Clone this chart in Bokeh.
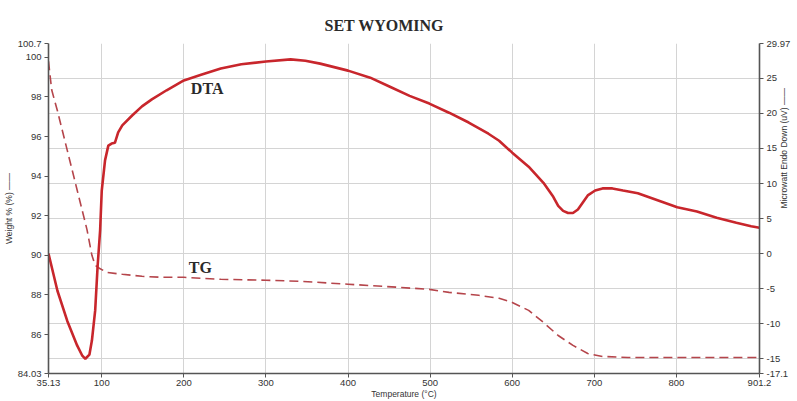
import numpy as np
from bokeh.plotting import figure
from bokeh.models import (Range1d, LinearAxis, FixedTicker, Grid, Label)
from bokeh.embed import file_html
from bokeh.resources import INLINE

# ---- data ----
dta_temp = [35.13, 46, 58, 70, 76, 80, 85, 88, 92, 95, 98, 100, 104, 108, 112, 116, 120, 125, 137,
            149, 161, 179, 200, 221, 245, 270, 300, 330, 348, 366, 400, 427, 451, 475, 499, 523,
            547, 571, 584, 600, 620, 638, 650, 656, 662, 668, 674, 680, 686, 692, 701, 710, 722,
            735, 753, 777, 801, 825, 849, 873, 891, 901.2]
dta_uv = [0.0, -5.3, -9.6, -13.1, -14.5, -15.0, -14.4, -12.4, -8.1, -1.7, 3.3, 9.0, 13.3, 15.4,
          15.7, 15.8, 17.3, 18.3, 19.7, 21.0, 22.0, 23.3, 24.7, 25.5, 26.4, 27.0, 27.4, 27.7, 27.5,
          27.1, 26.1, 25.1, 23.8, 22.5, 21.4, 20.1, 18.7, 17.1, 16.1, 14.4, 12.4, 10.1, 8.1, 6.8,
          6.1, 5.8, 5.8, 6.3, 7.3, 8.3, 9.0, 9.3, 9.3, 9.0, 8.6, 7.6, 6.6, 6.0, 5.1, 4.4, 3.9, 3.7]

tg_temp = [35.13, 39, 46, 58, 70, 82, 88, 92, 97, 106, 125, 149, 173, 200, 245, 300, 342, 400,
           463, 499, 523, 559, 584, 600, 620, 638, 656, 674, 692, 710, 741, 801, 849, 901.2]
tg_wt = [99.8, 98.36, 97.3, 95.3, 93.3, 91.3, 90.0, 89.5, 89.35, 89.14, 89.04, 88.94, 88.89,
         88.89, 88.79, 88.74, 88.69, 88.54, 88.38, 88.28, 88.13, 87.98, 87.83, 87.62, 87.22,
         86.61, 85.95, 85.45, 85.04, 84.89, 84.84, 84.84, 84.84, 84.84]

x_ticks = [35.13, 100, 200, 300, 400, 500, 600, 700, 800, 901.2]
left_ticks = [84.03, 86, 88, 90, 92, 94, 96, 98, 100, 100.7]
right_ticks = [-17.1, -15, -10, -5, 0, 5, 10, 15, 20, 25, 29.97]
grid_right = [-15, -10, -5, 0, 5, 10, 15, 20, 25]
grid_x = [100, 200, 300, 400, 500, 600, 700, 800]

title_text = "SET WYOMING"
x_label = "Temperature (°C)"
left_label = "Weight % (%) ——"
right_label = "Microwatt Endo Down (uV) ——"
curve_names = ["DTA", "TG"]
curve_label_pos = [(228.4, 98.41), (220, 89.40)]

# ---- figure ----
p = figure(width=797, height=401, output_backend="svg", toolbar_location=None,
           x_range=Range1d(35.13, 901.2), y_range=Range1d(84.03, 100.7),
           min_border_left=46, min_border_right=30, min_border_top=43, min_border_bottom=26)
p.background_fill_color = "white"
p.border_fill_color = "white"
p.outline_line_color = None
p.xgrid.visible = False
p.ygrid.visible = False

p.title.text = title_text
p.title.text_font = "Liberation Serif"
p.title.text_font_size = "16px"
p.title.text_font_style = "bold"
p.title.text_color = "#2a2a2a"
p.title.align = "left"
p.title.offset = 276
p.title.standoff = 20

p.extra_y_ranges = {"dta": Range1d(-17.1, 29.97)}

tick_font = "Liberation Sans"
def style_axis(ax, label):
    ax.axis_line_color = "#555555"
    ax.axis_line_width = 1.6
    ax.major_tick_line_color = "#555555"
    ax.major_tick_out = 4
    ax.major_tick_in = 0
    ax.minor_tick_line_color = None
    ax.major_label_text_font = tick_font
    ax.major_label_text_font_size = "9.5px"
    ax.major_label_text_color = "#333333"
    ax.major_label_standoff = 3
    ax.axis_label = label
    ax.axis_label_text_font = tick_font
    ax.axis_label_text_font_size = "8.5px"
    ax.axis_label_text_font_style = "normal"
    ax.axis_label_text_color = "#333333"
    ax.axis_label_standoff = 1

p.xaxis.ticker = FixedTicker(ticks=x_ticks)
p.xaxis.major_label_overrides = {t: str(t) for t in x_ticks}
p.yaxis.ticker = FixedTicker(ticks=left_ticks)
p.yaxis.major_label_overrides = {t: str(t) for t in left_ticks}
style_axis(p.xaxis[0], x_label)
style_axis(p.yaxis[0], left_label)
p.xaxis[0].axis_label_standoff = 0
p.xaxis[0].major_label_standoff = 2

rax = LinearAxis(y_range_name="dta", ticker=FixedTicker(ticks=right_ticks))
rax.major_label_overrides = {t: str(t) for t in right_ticks}
style_axis(rax, right_label)
rax.axis_label_standoff = -9
rax.axis_label_orientation = np.pi / 2
p.add_layout(rax, "right")

gy = Grid(dimension=1, ticker=FixedTicker(ticks=grid_right), y_range_name="dta",
          grid_line_color="#d4d4d4", grid_line_width=1)
gx = Grid(dimension=0, ticker=FixedTicker(ticks=grid_x),
          grid_line_color="#d4d4d4", grid_line_width=1)
p.add_layout(gy)
p.add_layout(gx)

# curves
p.line(tg_temp, tg_wt, line_color="#b5454b", line_width=1.6, line_dash="9 5")
p.line(dta_temp, dta_uv, y_range_name="dta", line_color="#c8262c", line_width=2.6)

for name, (lx, ly) in zip(curve_names, curve_label_pos):
    p.add_layout(Label(x=lx, y=ly, text=name, text_font="Liberation Serif", text_font_size="16px",
                       text_font_style="bold", text_color="#2a2a2a",
                       text_align="center", text_baseline="middle"))

open("out.html", "w").write(file_html(p, INLINE))
